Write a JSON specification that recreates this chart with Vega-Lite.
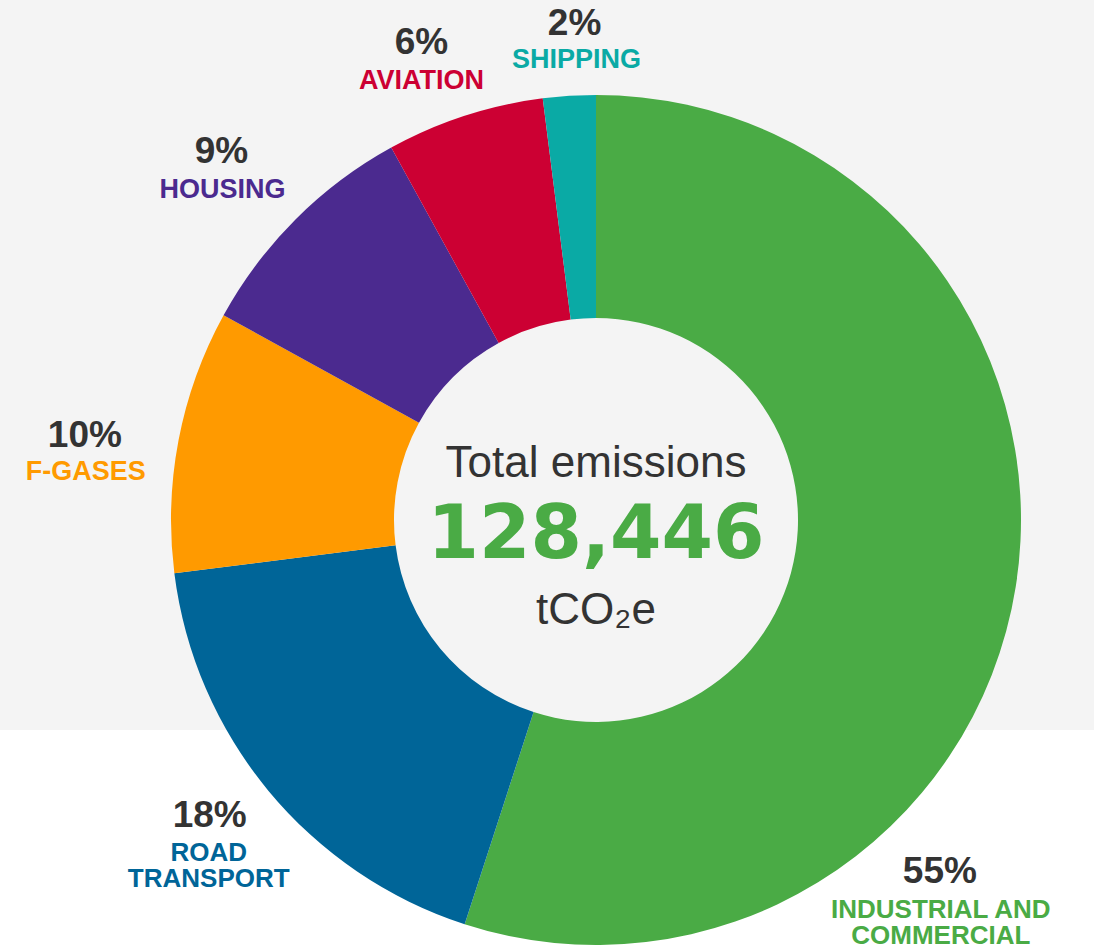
{
  "$schema": "https://vega.github.io/schema/vega-lite/v6.json",
  "width": 1192,
  "height": 1040,
  "autosize": {"type": "none"},
  "padding": {"left": 0, "top": 0, "right": -98, "bottom": -90},
  "background": "#ffffff",
  "view": {
    "stroke": null,
    "fill": {
      "gradient": "linear",
      "x1": 0, "y1": 0, "x2": 0, "y2": 1,
      "stops": [
        {"offset": 0, "color": "#f4f4f4"},
        {"offset": 0.7019, "color": "#f4f4f4"},
        {"offset": 0.702, "color": "#ffffff"},
        {"offset": 1, "color": "#ffffff"}
      ]
    }
  },
  "config": {"text": {"font": "Liberation Sans"}},
  "datasets": {
    "sectors": [
      {"sector": "Industrial and commercial", "label": "INDUSTRIAL AND\nCOMMERCIAL", "share": 0.55, "rank": 1},
      {"sector": "Road transport", "label": "ROAD\nTRANSPORT", "share": 0.18, "rank": 2},
      {"sector": "F-gases", "label": "F-GASES", "share": 0.10, "rank": 3},
      {"sector": "Housing", "label": "HOUSING", "share": 0.09, "rank": 4},
      {"sector": "Aviation", "label": "AVIATION", "share": 0.06, "rank": 5},
      {"sector": "Shipping", "label": "SHIPPING", "share": 0.02, "rank": 6}
    ],
    "total": [{"title": "Total emissions", "total": 128446, "unit": "tCO₂e"}]
  },
  "layer": [
    {
      "data": {"name": "sectors"},
      "encoding": {
        "theta": {"field": "share", "type": "quantitative", "stack": true},
        "order": {"field": "rank", "type": "quantitative"},
        "detail": {"field": "sector", "type": "nominal"}
      },
      "layer": [
        {
          "mark": {"type": "arc", "outerRadius": 425, "innerRadius": 202, "strokeWidth": 0},
          "encoding": {
            "color": {
              "field": "sector", "type": "nominal", "legend": null,
              "scale": {
                "domain": ["Industrial and commercial", "Road transport", "F-gases", "Housing", "Aviation", "Shipping"],
                "range": ["#4aab45", "#006598", "#ff9a00", "#4b2a8f", "#cc0033", "#0aaaa5"]
              }
            }
          }
        },
        {
          "mark": {"type": "text", "radius": 500, "dx": 10, "dy": 14, "fontSize": 37, "fontWeight": "bold", "color": "#333333", "align": "center", "baseline": "alphabetic"},
          "encoding": {"text": {"condition": {"test": "datum.sector === 'Shipping'", "field": "share", "format": ".0%"}, "value": ""}}
        },
        {
          "mark": {"type": "text", "radius": 500, "dx": 12, "dy": 47, "fontSize": 27, "fontWeight": "bold", "align": "center", "baseline": "alphabetic"},
          "encoding": {"text": {"condition": {"test": "datum.sector === 'Shipping'", "field": "label"}, "value": ""}, "color": {"field": "sector", "type": "nominal", "legend": null}}
        },
        {
          "mark": {"type": "text", "radius": 500, "dx": -20, "dy": 10, "fontSize": 37, "fontWeight": "bold", "color": "#333333", "align": "center", "baseline": "alphabetic"},
          "encoding": {"text": {"condition": {"test": "datum.sector === 'Aviation'", "field": "share", "format": ".0%"}, "value": ""}}
        },
        {
          "mark": {"type": "text", "radius": 500, "dx": -20, "dy": 45, "fontSize": 27, "fontWeight": "bold", "align": "center", "baseline": "alphabetic"},
          "encoding": {"text": {"condition": {"test": "datum.sector === 'Aviation'", "field": "label"}, "value": ""}, "color": {"field": "sector", "type": "nominal", "legend": null}}
        },
        {
          "mark": {"type": "text", "radius": 500, "dx": -21, "dy": -3, "fontSize": 37, "fontWeight": "bold", "color": "#333333", "align": "center", "baseline": "alphabetic"},
          "encoding": {"text": {"condition": {"test": "datum.sector === 'Housing'", "field": "share", "format": ".0%"}, "value": ""}}
        },
        {
          "mark": {"type": "text", "radius": 500, "dx": -20, "dy": 32, "fontSize": 27, "fontWeight": "bold", "align": "center", "baseline": "alphabetic"},
          "encoding": {"text": {"condition": {"test": "datum.sector === 'Housing'", "field": "label"}, "value": ""}, "color": {"field": "sector", "type": "nominal", "legend": null}}
        },
        {
          "mark": {"type": "text", "radius": 500, "dx": -20, "dy": 21, "fontSize": 37, "fontWeight": "bold", "color": "#333333", "align": "center", "baseline": "alphabetic"},
          "encoding": {"text": {"condition": {"test": "datum.sector === 'F-gases'", "field": "share", "format": ".0%"}, "value": ""}}
        },
        {
          "mark": {"type": "text", "radius": 500, "dx": -19, "dy": 54, "fontSize": 27, "fontWeight": "bold", "align": "center", "baseline": "alphabetic"},
          "encoding": {"text": {"condition": {"test": "datum.sector === 'F-gases'", "field": "label"}, "value": ""}, "color": {"field": "sector", "type": "nominal", "legend": null}}
        },
        {
          "mark": {"type": "text", "radius": 500, "dx": -1, "dy": -12, "fontSize": 37, "fontWeight": "bold", "color": "#333333", "align": "center", "baseline": "alphabetic"},
          "encoding": {"text": {"condition": {"test": "datum.sector === 'Road transport'", "field": "share", "format": ".0%"}, "value": ""}}
        },
        {
          "mark": {"type": "text", "radius": 500, "dx": -2, "dy": 22, "fontSize": 26, "fontWeight": "bold", "align": "center", "baseline": "alphabetic", "lineBreak": "\n", "lineHeight": 26},
          "encoding": {"text": {"condition": {"test": "datum.sector === 'Road transport'", "field": "label"}, "value": ""}, "color": {"field": "sector", "type": "nominal", "legend": null}}
        },
        {
          "mark": {"type": "text", "radius": 500, "dx": -150, "dy": 285, "fontSize": 37, "fontWeight": "bold", "color": "#333333", "align": "center", "baseline": "alphabetic"},
          "encoding": {"text": {"condition": {"test": "datum.sector === 'Industrial and commercial'", "field": "share", "format": ".0%"}, "value": ""}}
        },
        {
          "mark": {"type": "text", "radius": 500, "dx": -149, "dy": 320, "fontSize": 26, "fontWeight": "bold", "align": "center", "baseline": "alphabetic", "lineBreak": "\n", "lineHeight": 26},
          "encoding": {"text": {"condition": {"test": "datum.sector === 'Industrial and commercial'", "field": "label"}, "value": ""}, "color": {"field": "sector", "type": "nominal", "legend": null}}
        }
      ]
    },
    {
      "data": {"name": "total"},
      "layer": [
        {
          "mark": {"type": "text", "fontSize": 44, "color": "#333333", "align": "center", "baseline": "alphabetic", "dy": -43},
          "encoding": {"text": {"field": "title"}}
        },
        {
          "mark": {"type": "text", "font": "DejaVu Sans", "fontSize": 74, "fontWeight": "bold", "color": "#4aab45", "align": "center", "baseline": "alphabetic", "dy": 38},
          "encoding": {"text": {"field": "total", "type": "quantitative", "format": ","}}
        },
        {
          "mark": {"type": "text", "fontSize": 44, "color": "#333333", "align": "center", "baseline": "alphabetic", "dy": 104},
          "encoding": {"text": {"field": "unit"}}
        }
      ]
    }
  ]
}
